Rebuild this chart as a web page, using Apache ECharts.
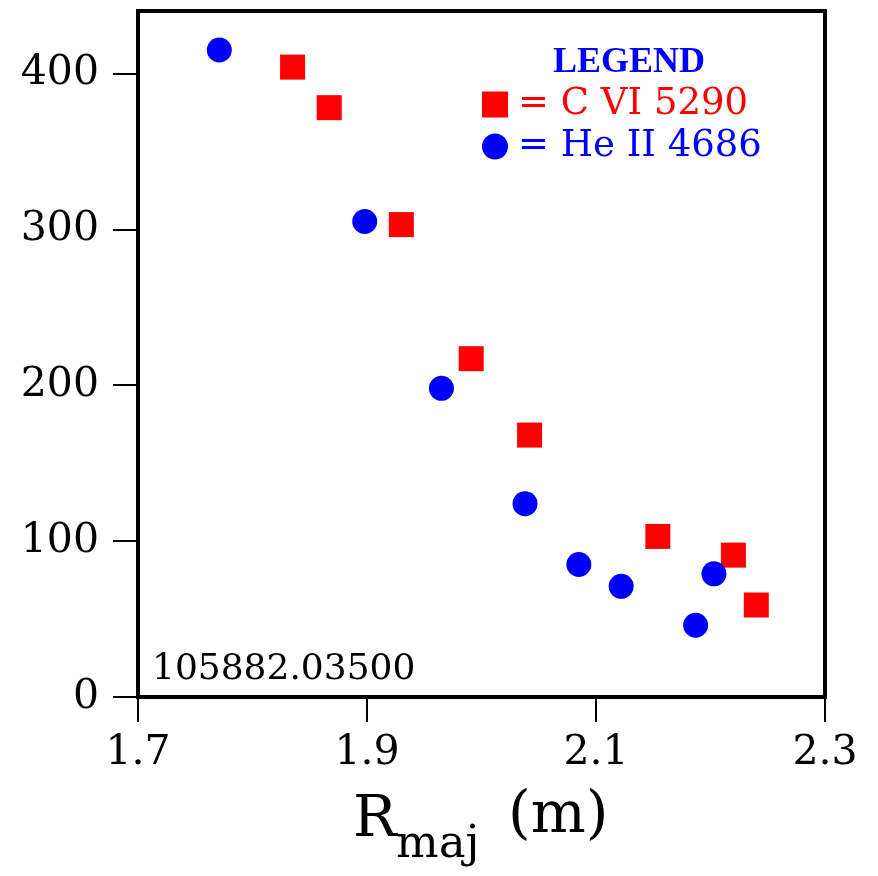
<!DOCTYPE html>
<html>
<head>
<meta charset="utf-8">
<script src="https://cdn.jsdelivr.net/npm/echarts@6/dist/echarts.min.js"></script>
<style>html,body{margin:0;padding:0;background:#fff;}#c{width:878px;height:876px;}</style>
</head>
<body>
<div id="c"></div>
<script>
// Data
const heName = 'He II 4686';
const heR = [1.771, 1.898, 1.965, 2.038, 2.085, 2.122, 2.187, 2.203];
const heV = [415, 305, 198, 124, 85, 71, 46, 79];
const cName = 'C VI 5290';
const cR = [1.835, 1.867, 1.930, 1.991, 2.042, 2.154, 2.220, 2.240];
const cV = [404, 378, 303, 217, 168, 103, 91, 59];
const xTicks = [1.7, 1.9, 2.1, 2.3];
const yTicks = [0, 100, 200, 300, 400];
const shotLabel = '105882.03500';

const font = 'DejaVu Serif';
const chart = echarts.init(document.getElementById('c'), null, {renderer: 'canvas'});
const pair = (xs, ys) => xs.map((x, i) => [x, ys[i]]);

chart.setOption({
  animation: false,
  backgroundColor: '#fff',
  grid: {left: 138, right: 53, top: 11, bottom: 179, show: true, borderColor: '#000', borderWidth: 4, backgroundColor: 'transparent'},
  legend: {
    orient: 'vertical', left: 482, top: 86, padding: 0, itemWidth: 26, itemHeight: 26, itemGap: 5,
    icon: 'rect',
    data: [
      {name: cName, icon: 'rect', itemStyle: {color: '#ff0000', opacity: 1}, textStyle: {color: '#ff0000'}},
      {name: heName, icon: 'circle', itemStyle: {color: '#0000ff', opacity: 1}, textStyle: {color: '#0000ff'}}
    ],
    formatter: '= {name}',
    textStyle: {fontFamily: font, fontSize: 37, padding: [0, 0, 0, 5]},
    selectedMode: false
  },
  xAxis: {
    type: 'value', min: 1.7, max: 2.3,
    axisLine: {show: true, lineStyle: {color: '#000', width: 4}},
    axisTick: {show: true, inside: false, length: 25, lineStyle: {color: '#000', width: 2}, customValues: xTicks},
    axisLabel: {customValues: xTicks, formatter: v => v.toFixed(1), fontFamily: font, fontSize: 41, color: '#000', margin: 36},
    splitLine: {show: false}
  },
  yAxis: {
    type: 'value', min: 0, max: 440,
    axisLine: {show: true, lineStyle: {color: '#000', width: 4}},
    axisTick: {show: true, inside: false, length: 25, lineStyle: {color: '#000', width: 2}, customValues: yTicks},
    axisLabel: {customValues: yTicks, fontFamily: font, fontSize: 41, color: '#000', margin: 39},
    splitLine: {show: false}
  },
  graphic: [
    {type: 'text', left: 553, top: 45, style: {text: 'LEGEND', font: 'bold 36px "Liberation Serif"', fill: '#0000ff'}},
    {type: 'text', left: 152, top: 652, style: {text: shotLabel, font: '36px "DejaVu Serif"', fill: '#000'}},
    {type: 'text', left: 353, top: 792, style: {text: 'R', font: '58px "DejaVu Serif"', fill: '#000'}},
    {type: 'text', left: 396, top: 823, style: {text: 'maj', font: '45px "DejaVu Serif"', fill: '#000'}},
    {type: 'text', left: 508, top: 788, style: {text: '(m)', font: '58px "DejaVu Serif"', fill: '#000'}}
  ],
  series: [
    {name: cName, type: 'scatter', symbol: 'rect', symbolSize: 25, itemStyle: {color: '#ff0000', opacity: 1}, data: pair(cR, cV), z: 3},
    {name: heName, type: 'scatter', symbol: 'circle', symbolSize: 25, itemStyle: {color: '#0000ff', opacity: 1}, data: pair(heR, heV), z: 4}
  ]
});
</script>
</body>
</html>
